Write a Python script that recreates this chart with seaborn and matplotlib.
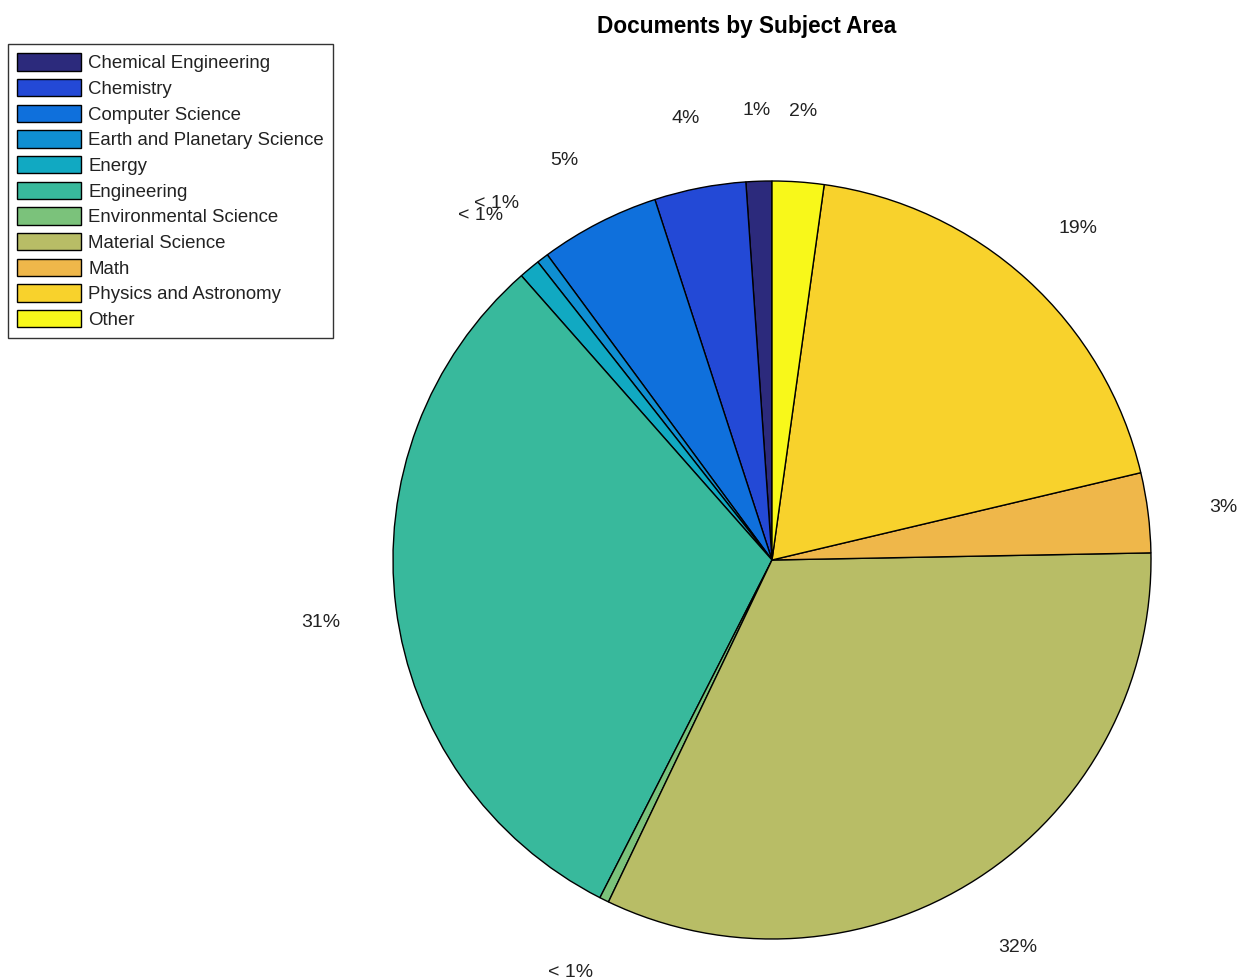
import matplotlib
matplotlib.use("Agg")
import matplotlib.pyplot as plt
import seaborn as sns

sns.set_theme(style="white")
plt.rcParams['font.family'] = ['Liberation Sans', 'DejaVu Sans']

categories = ["Chemical Engineering", "Chemistry", "Computer Science",
              "Earth and Planetary Science", "Energy", "Engineering",
              "Environmental Science", "Material Science", "Math",
              "Physics and Astronomy", "Other"]
shares = [1.1, 3.9, 5.1, 0.5, 0.9, 31.0, 0.4, 32.4, 3.4, 19.1, 2.2]
labels = ["1%", "4%", "5%", "< 1%", "< 1%", "31%", "< 1%", "32%", "3%", "19%", "2%"]
colors = ["#2c2a7c", "#2349d6", "#0f70dc", "#0f8fd2", "#11a9c2", "#38b99c",
          "#7bc27b", "#b8bd66", "#efb74a", "#f8d22c", "#f8f81a"]

W, H = 1248, 980
fig = plt.figure(figsize=(W / 100, H / 100), dpi=100)
ax = fig.add_axes([0, 0, 1, 1])

cx, cy, R = 772, 560, 379
wedges, texts = ax.pie(shares, labels=labels, colors=colors, startangle=90,
                       counterclock=True, radius=1.0, labeldistance=1.2,
                       wedgeprops=dict(edgecolor="black", linewidth=1.0),
                       textprops=dict(fontsize=14, color="#222222",
                                      ha="center", va="center"))
for t in texts:
    x, y = t.get_position()
    t.set_position((x, y - 5 / R))
ax.set_aspect("auto")
ax.set_xlim(-cx / R, (W - cx) / R)
ax.set_ylim((cy - H) / R, cy / R)
ax.axis("off")

fig.text(747 / W, 1 - 26 / H, "Documents by Subject Area", ha="center",
         va="center", fontsize=16.3, fontweight="bold", color="black")

leg = fig.legend(wedges, categories, loc="upper left",
                 bbox_to_anchor=(8 / W, 1 - 44 / H), bbox_transform=fig.transFigure,
                 borderaxespad=0, fontsize=13.4, handlelength=3.4, handleheight=1.05,
                 handletextpad=0.4, labelspacing=0.36, borderpad=0.5,
                 fancybox=False, frameon=True, edgecolor="black")
leg.get_frame().set_linewidth(1.0)
for t in leg.get_texts():
    t.set_color("#222222")

fig.savefig("out.png", dpi=100)
